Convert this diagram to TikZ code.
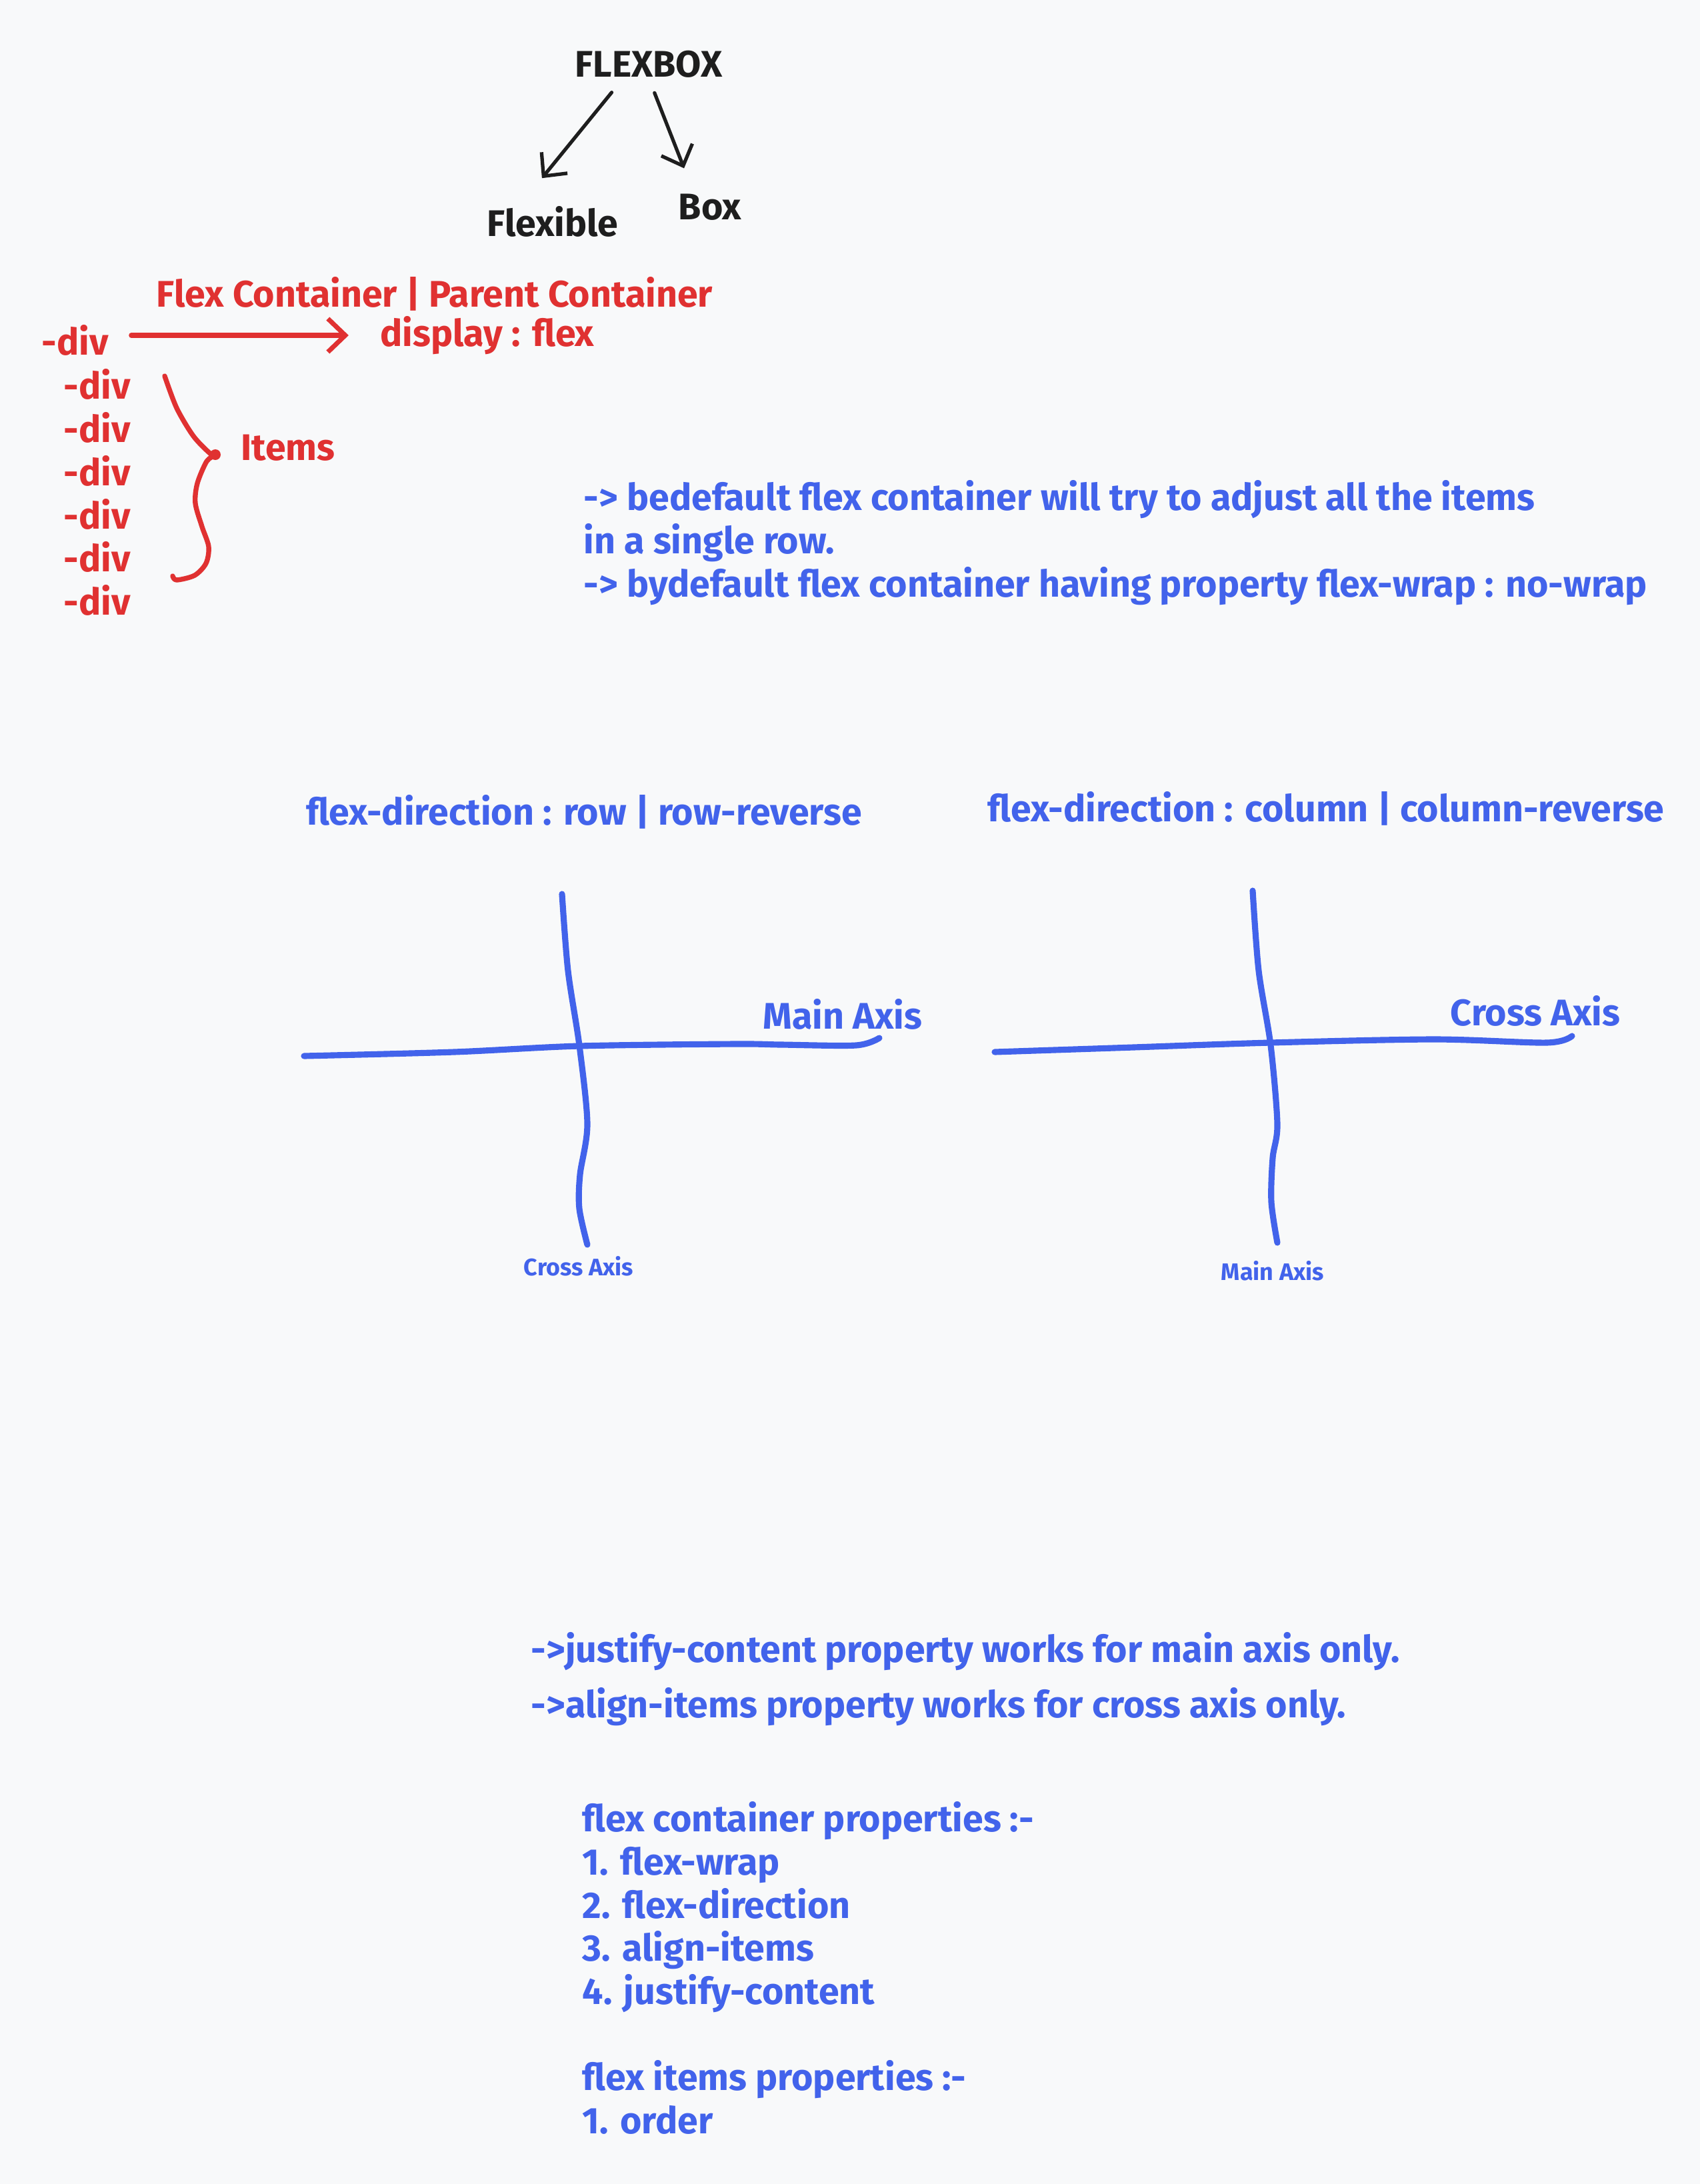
\documentclass[tikz,border=0pt]{standalone}
\usepackage{fontspec}
\setmainfont{Fira Sans}
\usetikzlibrary{arrows.meta,calc}
\definecolor{inkred}{HTML}{E03131}
\definecolor{inkblue}{HTML}{4263EB}
\definecolor{inkblack}{HTML}{1E1E1E}
\definecolor{paper}{HTML}{F8F9FA}

\begin{document}
\begin{tikzpicture}[>={Straight Barb[length=2.6mm,width=5mm]},
  hand/.style={inner sep=0pt,font=\fontsize{15.8}{18.4}\selectfont\bfseries},
  handsmall/.style={inner sep=0pt,font=\fontsize{10.2}{12}\selectfont\bfseries,text=inkblue},
  axisline/.style={draw=inkblue,line width=2.6pt,line cap=round,line join=round}]
\fill[paper] (0,0) rectangle (25.5,-32.76);
\node[hand,text=inkblack] (flexbox) at (9.73,-0.96) {FLEXBOX};
\node[hand,text=inkblack] (flexible) at (8.29,-3.32) {Flexible};
\node[hand,text=inkblack] (box) at (10.65,-3.11) {Box};
\draw[->,inkblack,line width=1.5pt,line cap=round,shorten <=0.28cm,shorten >=0.53cm] ($(flexbox.south)!0.34!(flexbox.south west)$)--($(flexible.north)!0.5!(flexible.north west)$);
\draw[->,inkblack,line width=1.5pt,line cap=round,shorten <=0.24cm,shorten >=0.41cm] (flexbox.south)--($(box.north)!0.5!(box.north west)$);
\node[hand,text=inkred] (container) at (6.52,-4.41) {Flex Container | Parent Container};
\node[hand,text=inkred] (display) at (7.31,-5.03) {display : flex};
\node[hand,text=inkred] (div0) at (1.13,-5.10) {-div};
\node[hand,text=inkred] (div1) at (1.46,-5.76) {-div};
\node[hand,text=inkred] (div2) at (1.46,-6.41) {-div};
\node[hand,text=inkred] (div3) at (1.46,-7.06) {-div};
\node[hand,text=inkred] (div4) at (1.46,-7.71) {-div};
\node[hand,text=inkred] (div5) at (1.46,-8.35) {-div};
\node[hand,text=inkred] (div6) at (1.46,-9.00) {-div};
\node[hand,text=inkred] (items) at (4.32,-6.72) {Items};
\draw[->,inkred,line width=2pt,line cap=round,shorten <=0.33cm,shorten >=0.47cm] (div0.east |- display.west)--(display.west);
\draw[inkred,line width=2.1pt,line cap=round,line join=round] plot[smooth] coordinates {(2.47,-5.64) (2.65,-6.12) (2.90,-6.54) (3.15,-6.80) (3.23,-6.82) (3.10,-6.92) (2.96,-7.25) (2.93,-7.55) (3.03,-7.90) (3.13,-8.20) (3.09,-8.45) (2.92,-8.63) (2.65,-8.70) (2.59,-8.64)};
\fill[inkred] (3.23,-6.82) circle (0.08);
\node[hand,text=inkblue,align=left,anchor=north west] (note) at (8.75,-7.20) {-> bedefault flex container will try to adjust all the items\\in a single row.\\-> bydefault flex container having property flex-wrap : no-wrap};
\node[hand,text=inkblue] (rowtitle) at (8.76,-12.18) {flex-direction : row | row-reverse};
\node[hand,text=inkblue] (coltitle) at (19.89,-12.13) {flex-direction : column | column-reverse};
\draw[axisline] plot[smooth] coordinates {(8.43,-13.41) (8.52,-14.56) (8.69,-15.68) (8.81,-16.86) (8.70,-17.62) (8.69,-18.13) (8.81,-18.67)};
\draw[axisline] plot[smooth] coordinates {(4.56,-15.84) (6.81,-15.78) (8.69,-15.69) (11.02,-15.66) (11.72,-15.67) (12.84,-15.68) (13.19,-15.57)};
\node[hand,text=inkblue] (rowmain) at (12.64,-15.21) {Main Axis};
\node[handsmall] (rowcross) at (8.68,-18.99) {Cross Axis};
\draw[axisline] plot[smooth] coordinates {(18.79,-13.36) (18.88,-14.56) (19.06,-15.68) (19.16,-16.86) (19.09,-17.37) (19.07,-18.03) (19.16,-18.64)};
\draw[axisline] plot[smooth] coordinates {(14.92,-15.78) (17.00,-15.71) (19.06,-15.64) (21.52,-15.59) (23.20,-15.64) (23.58,-15.54)};
\node[hand,text=inkblue] (colcross) at (23.03,-15.16) {Cross Axis};
\node[handsmall] (colmain) at (19.09,-19.06) {Main Axis};
\node[hand,text=inkblue,anchor=west] (justify) at (7.96,-24.77) {->justify-content property works for main axis only.};
\node[hand,text=inkblue,anchor=west] (alignit) at (7.96,-25.60) {->align-items property works for cross axis only.};
\node[hand,text=inkblue,align=left,anchor=north west] (props) at (8.73,-27.02) {flex container properties :-\\1. flex-wrap\\2. flex-direction\\3. align-items\\4. justify-content\\[18.4pt]flex items properties :-\\1. order};
\end{tikzpicture}
\end{document}
